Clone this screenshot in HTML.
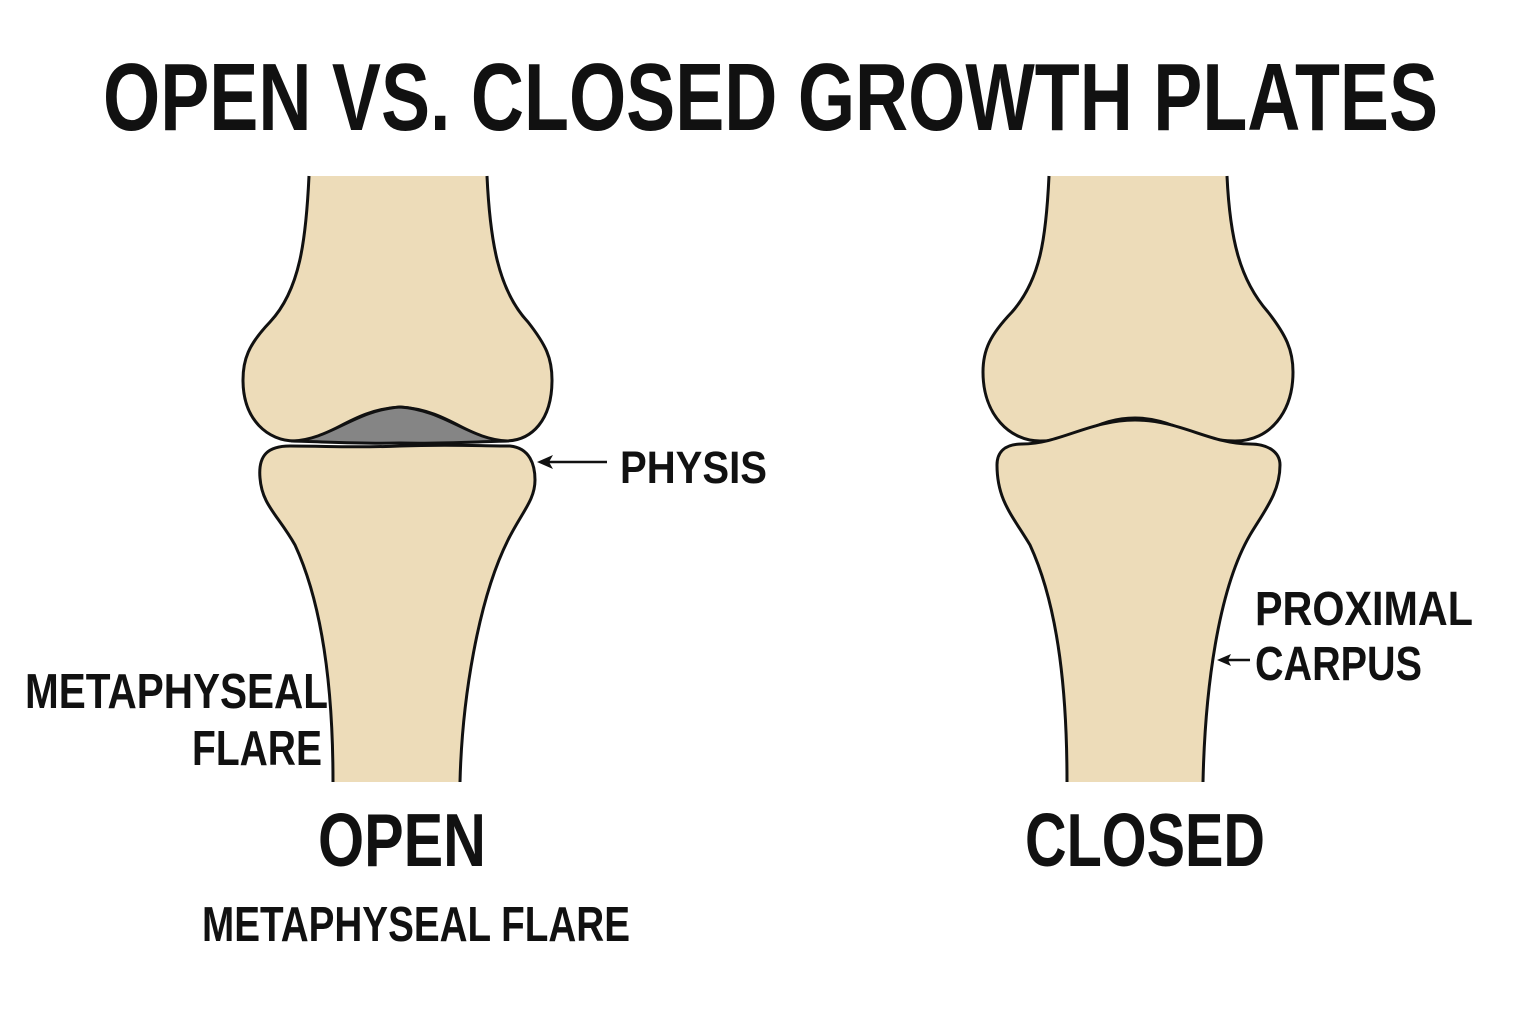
<!DOCTYPE html>
<html><head><meta charset="utf-8"><style>
html,body{margin:0;padding:0;background:#fff;}
svg{display:block}
text{font-family:"Liberation Sans",sans-serif;font-weight:bold;fill:#111;}
</style></head><body>
<svg width="1536" height="1024" viewBox="0 0 1536 1024" xmlns="http://www.w3.org/2000/svg">
<text x="103" y="130" font-size="96" textLength="1335" lengthAdjust="spacingAndGlyphs">OPEN VS. CLOSED GROWTH PLATES</text>

<!-- LEFT BONE -->
<g stroke="#111" stroke-width="3" fill="#eddcb9" stroke-linejoin="round">
<path d="M309,176 C306,240 300,290 270,322 C248,345 243,360 243,380 C243,420 268,441 295,441 C330,441 350,410 400,407 C450,410 470,441 505,441 C532,441 552,420 552,380 C552,358 546,345 528,322 C498,290 490,240 487,176"/>
<path d="M292,441 C330,440 355,410 400,407 C445,410 470,440 508,441 C470,442 440,444 400,443 C360,444 330,442 292,441 Z" fill="#858585"/>
<path d="M333,782 C333,700 325,610 295,545 C278,515 262,505 260,478 C258,455 268,446 290,446 C330,446 350,448 400,446 C450,444 480,446 510,446 C530,448 535,465 535,480 C535,500 522,512 508,540 C478,600 462,700 460,782"/>
</g>
<line x1="607" y1="462" x2="545" y2="462" stroke="#111" stroke-width="2.5"/>
<path d="M537,462 L553,455 L549,462 L553,469 Z" fill="#111"/>

<!-- RIGHT BONE -->
<g stroke="#111" stroke-width="3" fill="#eddcb9" stroke-linejoin="round">
<path d="M1049,176 C1046,240 1040,280 1012,312 C990,335 983,350 983,372 C983,415 1010,441 1040,441 C1080,441 1095,418 1135,418 C1175,418 1190,441 1235,441 C1270,441 1293,412 1293,372 C1293,350 1286,335 1268,312 C1240,280 1230,240 1227,176"/>
<path d="M1067,782 C1067,700 1060,610 1030,545 C1012,515 997,500 997,465 C997,452 1005,444 1022,444 C1060,444 1090,420 1135,420 C1180,420 1210,444 1250,444 C1268,444 1280,452 1280,465 C1280,492 1265,510 1250,535 C1218,590 1205,690 1203,782"/>
</g>
<line x1="1250" y1="660" x2="1224" y2="660" stroke="#111" stroke-width="2.5"/>
<path d="M1217,660 L1231,654 L1228,660 L1231,666 Z" fill="#111"/>

<text x="620" y="483" font-size="45" textLength="147" lengthAdjust="spacingAndGlyphs">PHYSIS</text>
<text x="25" y="708" font-size="49" textLength="303" lengthAdjust="spacingAndGlyphs">METAPHYSEAL</text>
<text x="192" y="765" font-size="49" textLength="130" lengthAdjust="spacingAndGlyphs">FLARE</text>
<text x="318" y="866" font-size="75" textLength="168" lengthAdjust="spacingAndGlyphs">OPEN</text>
<text x="1025" y="866" font-size="75" textLength="240" lengthAdjust="spacingAndGlyphs">CLOSED</text>
<text x="202" y="941" font-size="49" textLength="428" lengthAdjust="spacingAndGlyphs">METAPHYSEAL FLARE</text>
<text x="1255" y="625" font-size="48" textLength="218" lengthAdjust="spacingAndGlyphs">PROXIMAL</text>
<text x="1255" y="680" font-size="48" textLength="167" lengthAdjust="spacingAndGlyphs">CARPUS</text>
</svg>
</body></html>
